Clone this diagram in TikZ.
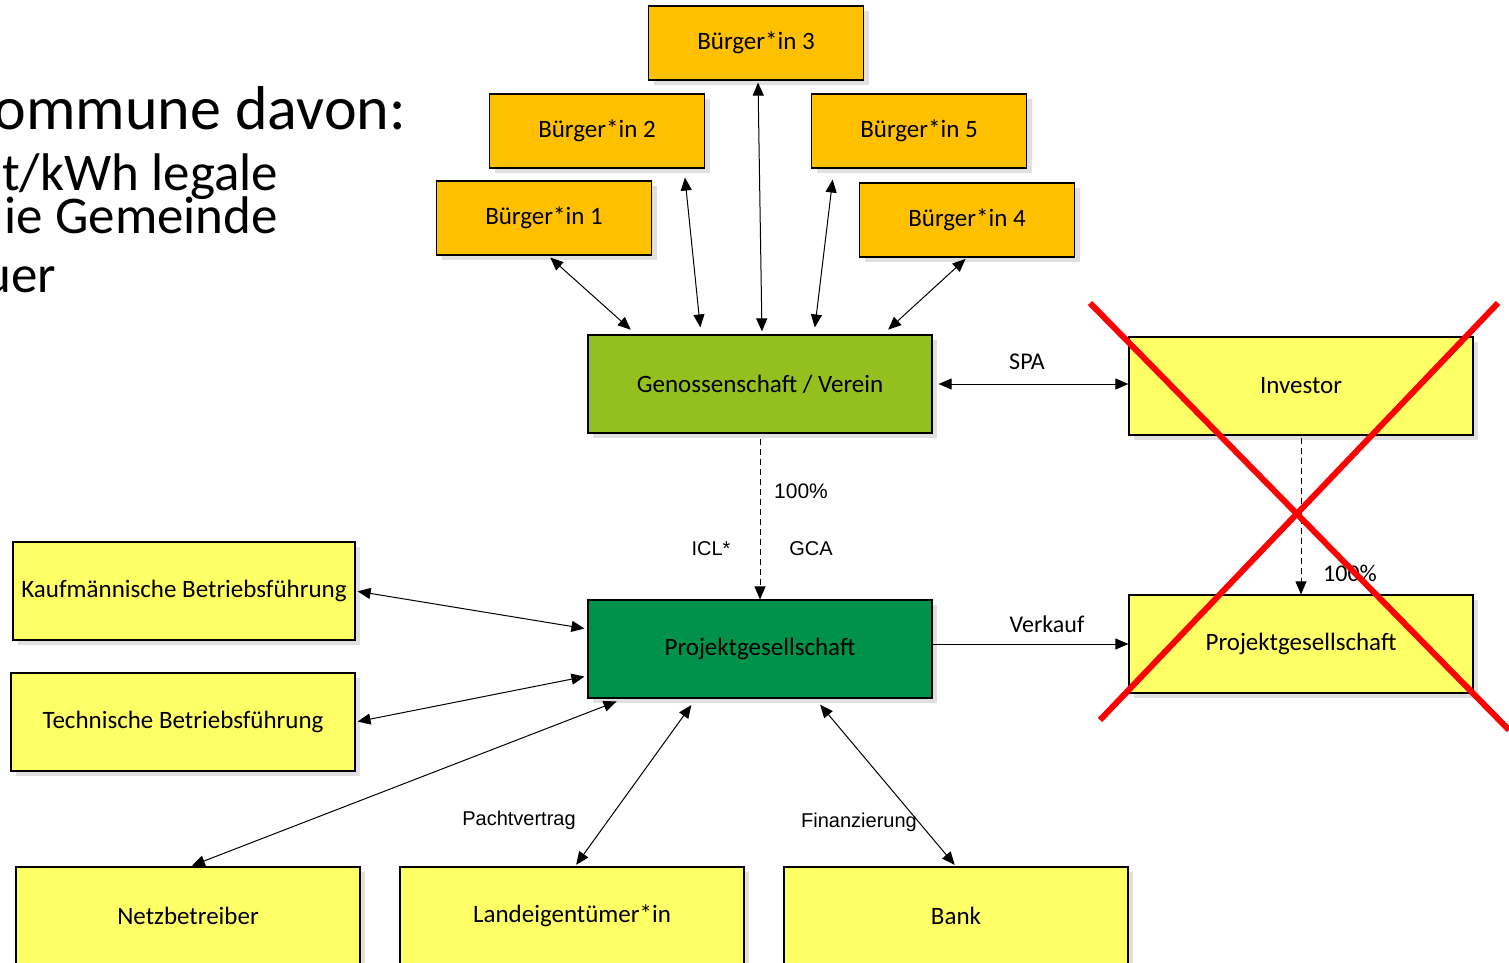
\documentclass[tikz,border=0pt]{standalone}
\usepackage{fontspec}
\setmainfont{Carlito}
\newfontfamily\arialfont{Liberation Sans}
\usetikzlibrary{arrows.meta,shadows}
\definecolor{buerger}{HTML}{FFC000}
\definecolor{verein}{HTML}{93C01F}
\definecolor{projekt}{HTML}{00924A}
\definecolor{partner}{HTML}{FFFF66}
\definecolor{kreuz}{HTML}{FF0000}

\begin{document}
\begin{tikzpicture}[x=0.5pt,y=-0.5pt,
  box/.style={draw,line width=0.6pt,inner sep=0pt,font=\fontsize{12.5}{14}\selectfont,
    drop shadow={shadow xshift=2.5pt,shadow yshift=-2.5pt,fill=black,opacity=0.12}},
  person/.style={box,fill=buerger,minimum width=107.5pt,minimum height=37pt},
  wide/.style={box,minimum width=172pt,minimum height=49pt},
  link/.style={{Triangle[length=6.5pt,width=5.5pt]}-{Triangle[length=6.5pt,width=5.5pt]},line width=0.5pt},
  oneway/.style={-{Triangle[length=6.5pt,width=5.5pt]},line width=0.5pt},
  share/.style={oneway,dashed,dash pattern=on 3pt off 2pt},
  lab/.style={font=\arialfont\fontsize{10}{12}\selectfont},
  labc/.style={font=\fontsize{12}{14}\selectfont},
  slide/.style={anchor=base east,font=\fontsize{26.5}{28}\selectfont}]
\useasboundingbox (0,0) rectangle (1509,963);
%slide text behind the diagram
\node[slide,font=\fontsize{31}{33}\selectfont] (t1) at (413,130) {ommune davon:};
\node[slide] (t2) at (285,191) {t/kWh legale};
\node[slide] (t3) at (285,233) {ie Gemeinde};
\node[slide] (t4) at (63,292) {uer};
%Buerger
\node[person] (b3) at (756,43) {Bürger*in 3};
\node[person] (b2) at (597,131) {Bürger*in 2};
\node[person] (b5) at (919,131) {Bürger*in 5};
\node[person] (b1) at (544,218) {Bürger*in 1};
\node[person] (b4) at (967,220) {Bürger*in 4};
%middle
\node[wide,fill=verein] (gen) at (760,384) {Genossenschaft / Verein};
\node[wide,fill=projekt] (pg) at (760,649) {Projektgesellschaft};
\node[wide,fill=partner] (inv) at (1301,386) {Investor};
\node[wide,fill=partner] (pgr) at (1301,644) {Projektgesellschaft};
%left and bottom
\node[wide,fill=partner,minimum width=171pt] (kfm) at (184,591) {Kaufmännische Betriebsführung};
\node[wide,fill=partner] (tbf) at (183,722) {Technische Betriebsführung};
\node[wide,fill=partner,minimum height=48.5pt] (netz) at (188,915.5) {Netzbetreiber};
\node[wide,fill=partner,minimum height=48.5pt] (land) at (572,915.5) {Landeigentümer*in};
\node[wide,fill=partner,minimum height=48.5pt] (bank) at (956,915.5) {Bank};
%arrows Buerger
\draw[link,shorten <=1.5pt,shorten >=3.5pt] ([xshift=2pt]b1.south) -- ([xshift=-62pt]gen.north);
\draw[link,shorten <=4.5pt,shorten >=3.5pt] ([xshift=43.5pt]b2.south) -- ([xshift=-29.5pt]gen.north);
\draw[link,shorten <=1pt,shorten >=1.5pt] ([xshift=1pt]b3.south) -- ([xshift=1pt]gen.north);
\draw[link,shorten <=5.5pt,shorten >=3.5pt] ([xshift=-42.5pt]b5.south) -- ([xshift=27pt]gen.north);
\draw[link,shorten <=1pt,shorten >=3.5pt] (b4.south) -- ([xshift=61.5pt]gen.north);
%SPA and shares
\draw[link,shorten <=3pt] (gen.east) -- (gen.east -| inv.west);
\node[labc] (spa) at (1027,362) {SPA};
\draw[share,shorten <=2.5pt] (gen.south) -- (pg.north);
\node[lab,font=\arialfont\fontsize{10.5}{12}\selectfont] (p1) at (801,491) {100\%};
\node[lab] (icl) at (711,549) {ICL*};
\node[lab] (gca) at (811,549) {GCA};
\draw[share,shorten <=1pt] (inv.south) -- (pgr.north);
\node[labc] (p2) at (1350,573) {100\%};
\draw[oneway] (pg.east |- pgr.west) -- (pgr.west);
\node[labc] (vk) at (1047,624) {Verkauf};
%arrows Projektgesellschaft
\draw[link,shorten <=1pt,shorten >=1.5pt] (kfm.east) -- ([yshift=10pt]pg.west);
\draw[link,shorten <=1pt,shorten >=1.5pt] (tbf.east) -- ([yshift=-13.5pt]pg.west);
\draw[link,shorten <=1pt,shorten >=4pt] ([xshift=1pt]netz.north) -- ([xshift=-68pt]pg.south);
\draw[link,shorten <=1pt,shorten >=4pt] ([xshift=1.5pt]land.north) -- ([xshift=-32pt]pg.south);
\draw[link,shorten <=1pt,shorten >=4pt] (bank.north) -- ([xshift=27.5pt]pg.south);
\node[lab] (pacht) at (519,820) {Pachtvertrag};
\node[lab] (fin) at (859,822) {Finanzierung};
%cross
\draw[kreuz,line width=3pt] (1090,303) -- (1509,730);
\draw[kreuz,line width=3pt] (1498,303) -- (1100,720);
\end{tikzpicture}
\end{document}
